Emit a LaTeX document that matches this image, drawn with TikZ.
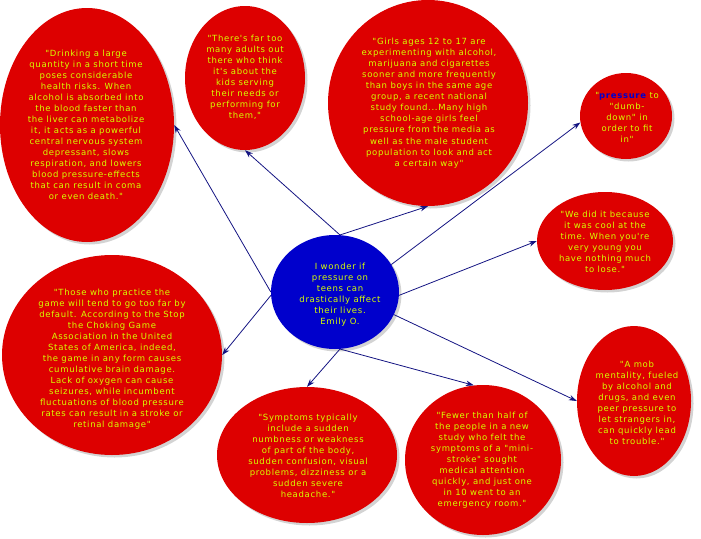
\documentclass[tikz,border=0pt]{standalone}
\usepackage{fontspec}
\setmainfont{DejaVu Sans}
\newfontfamily\quotefont[LetterSpace=8]{DejaVu Sans}
\usetikzlibrary{shapes.geometric,shadows,arrows.meta}

\definecolor{bubred}{RGB}{221,0,0}
\definecolor{bubblue}{RGB}{0,0,204}
\definecolor{quoteyel}{RGB}{214,255,0}
\definecolor{linknavy}{RGB}{20,20,130}

\tikzset{
  bubble/.style={ellipse, fill=bubred, inner sep=0pt,
    drop shadow={opacity=0.35, shadow xshift=2.5pt, shadow yshift=-2.5pt}},
  quote/.style={text=quoteyel, align=center, inner sep=0pt,
    font=\quotefont\fontsize{8.5}{11.05}\selectfont},
  link/.style={-{Stealth[length=8pt,width=5.5pt]}, linknavy, line width=0.8pt}
}

\begin{document}
\begin{tikzpicture}[x=1pt, y=-1pt]
  \useasboundingbox (0,0) rectangle (701,538);

  % mittlere Blase
  \node[bubble, fill=bubblue, minimum width=128pt, minimum height=114pt] (center) at (335,292) {};
  \node[quote] (centertxt) at (340,295) {I wonder if\\pressure on\\teens can\\drastically affect\\their lives.\\Emily O.};

  % Blasen rundherum
  \node[bubble, minimum width=174pt, minimum height=234pt] (drink) at (87,125) {};
  \node[quote] (drinktxt) at (86,125) {"Drinking a large\\quantity in a short time\\poses considerable\\health risks. When\\alcohol is absorbed into\\the blood faster than\\the liver can metabolize\\it, it acts as a powerful\\central nervous system\\depressant, slows\\respiration, and lowers\\blood pressure-effects\\that can result in coma\\or even death."};

  \node[bubble, minimum width=120pt, minimum height=144pt] (adults) at (245,78) {};
  \node[quote] (adultstxt) at (245,77) {"There's far too\\many adults out\\there who think\\it's about the\\kids serving\\their needs or\\performing for\\them,"};

  \node[bubble, minimum width=200pt, minimum height=206pt] (girls) at (428,103) {};
  \node[quote] (girlstxt) at (429,103) {"Girls ages 12 to 17 are\\experimenting with alcohol,\\marijuana and cigarettes\\sooner and more frequently\\than boys in the same age\\group, a recent national\\study found...Many high\\school-age girls feel\\pressure from the media as\\well as the male student\\population to look and act\\a certain way"};

  \node[bubble, minimum width=92pt, minimum height=86pt] (dumb) at (626,116) {};
  \node[quote] (dumbtxt) at (627,117) {"\textcolor{bubblue}{\bfseries pressure} to\\"dumb-\\down" in\\order to fit\\in"};

  \node[bubble, minimum width=136pt, minimum height=98pt] (cool) at (605,241) {};
  \node[quote] (cooltxt) at (605,242) {"We did it because\\it was cool at the\\time. When you're\\very young you\\have nothing much\\to lose."};

  \node[bubble, minimum width=220pt, minimum height=200pt] (choke) at (112,355) {};
  \node[quote] (choketxt) at (112,359) {"Those who practice the\\game will tend to go too far by\\default. According to the Stop\\the Choking Game\\Association in the United\\States of America, indeed,\\the game in any form causes\\cumulative brain damage.\\Lack of oxygen can cause\\seizures, while incumbent\\fluctuations of blood pressure\\rates can result in a stroke or\\retinal damage"};

  \node[bubble, minimum width=114pt, minimum height=150pt] (mob) at (634,401) {};
  \node[quote] (mobtxt) at (637,403) {"A mob\\mentality, fueled\\by alcohol and\\drugs, and even\\peer pressure to\\let strangers in,\\can quickly lead\\to trouble."};

  \node[bubble, minimum width=180pt, minimum height=136pt] (symp) at (307,455) {};
  \node[quote] (symptxt) at (308,456) {"Symptoms typically\\include a sudden\\numbness or weakness\\of part of the body,\\sudden confusion, visual\\problems, dizziness or a\\sudden severe\\headache."};

  \node[bubble, minimum width=156pt, minimum height=150pt] (stroke) at (483,460) {};
  \node[quote] (stroketxt) at (482,460) {"Fewer than half of\\the people in a new\\study who felt the\\symptoms of a "mini-\\stroke" sought\\medical attention\\quickly, and just one\\in 10 went to an\\emergency room."};

  % Verbindungen
  \draw[link] (center.180) -- (drink.east);
  \draw[link] (center.183) -- (choke.east);
  \draw[link] (center.85) -- (adults.south);
  \draw[link] (center.85) -- (girls.south);
  \draw[link] (center.26) -- (dumb.188);
  \draw[link] (center.-3) -- (cool.west);
  \draw[link] (center.-21) -- (mob.west);
  \draw[link] (center.-85) -- (symp.north);
  \draw[link] (center.-85) -- (stroke.97);

\end{tikzpicture}
\end{document}
